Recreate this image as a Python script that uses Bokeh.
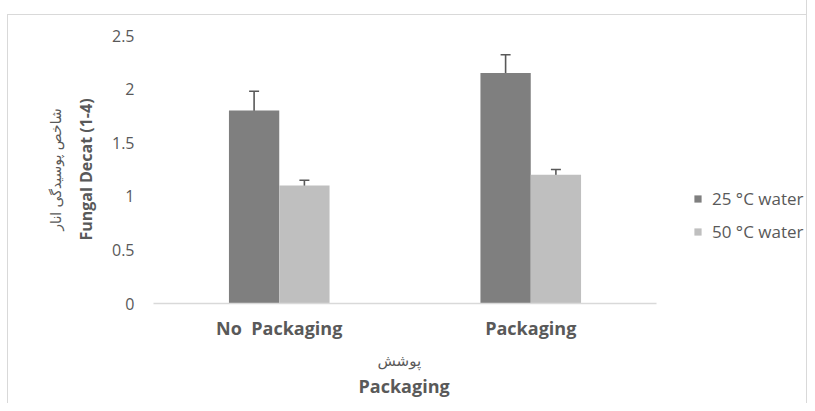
from bokeh.plotting import figure
from bokeh.models import (ColumnDataSource, Range1d, Whisker, TeeHead, Title,
                          Legend, LegendItem, LinearAxis, CustomJSTickFormatter,
                          NumeralTickFormatter, FixedTicker)
from bokeh.transform import dodge
from bokeh.embed import file_html
from bokeh.resources import INLINE

categories = ["No\u00a0 Packaging", "Packaging"]
series_names = ["25 °C water", "50 °C water"]
water25 = [1.80, 2.15]
water25_err = [0.18, 0.17]
water50 = [1.10, 1.20]
water50_err = [0.05, 0.05]
y_ticks = [0, 0.5, 1, 1.5, 2, 2.5]
y_title_fa = "شاخص پوسیدگی انار"
y_title_en = "Fungal Decat (1-4)"
x_title_fa = "پوشش"
x_title_en = "Packaging"

n = len(categories)
xpos = [i + 0.5 for i in range(n)]

src = ColumnDataSource(dict(
    x=xpos,
    w25=water25,
    w25_lo=[v - e for v, e in zip(water25, water25_err)],
    w25_hi=[v + e for v, e in zip(water25, water25_err)],
    w50=water50,
    w50_lo=[v - e for v, e in zip(water50, water50_err)],
    w50_hi=[v + e for v, e in zip(water50, water50_err)],
))

FONT = "Open Sans"
FA_FONT = "DejaVu Sans"
TXT = "#595959"

# plot frame extends right so the legend can sit inside it; the category axis
# itself is bounded to the two categories
FRAME_W = 653
CAT_PX = 251.5
p = figure(x_range=Range1d(0, FRAME_W / CAT_PX), y_range=Range1d(0, 2.5),
           frame_width=FRAME_W, frame_height=268, output_backend="svg",
           toolbar_location=None,
           min_border_left=153, min_border_right=0, min_border_top=35,
           min_border_bottom=100)
p.border_fill_color = None
p.background_fill_color = None
p.styles = {"box-shadow": "inset 7px 14px 0 0 #ffffff, inset 8px 15px 0 0 #d9d9d9",
            "border-right": "1px solid #d9d9d9"}
p.outline_line_color = None
p.xgrid.visible = False
p.ygrid.visible = False

r1 = p.vbar(x=dodge("x", -0.1), top="w25", width=0.2, source=src,
            fill_color="#7f7f7f", line_color=None)
r2 = p.vbar(x=dodge("x", 0.1), top="w50", width=0.2, source=src,
            fill_color="#bfbfbf", line_color=None)

for off, lo, hi in [(-0.1, "w25_lo", "w25_hi"), (0.1, "w50_lo", "w50_hi")]:
    w = Whisker(base=dodge("x", off), lower=lo, upper=hi, source=src,
                line_color="#595959", line_width=1.6,
                upper_head=TeeHead(size=10, line_color="#595959", line_width=1.6),
                lower_head=TeeHead(size=10, line_color="#595959", line_width=1.6))
    p.add_layout(w)

# y axis
ya = p.yaxis[0]
ya.ticker = FixedTicker(ticks=y_ticks)
ya.formatter = NumeralTickFormatter(format="0.[0]")
ya.axis_line_color = None
ya.major_tick_line_color = None
ya.minor_tick_line_color = None
ya.major_tick_out = 0
ya.major_tick_in = 0
ya.major_label_text_font = FONT
ya.major_label_text_font_size = "16px"
ya.major_label_text_color = TXT
ya.major_label_standoff = 19
ya.axis_label = y_title_en
ya.axis_label_text_font = FONT
ya.axis_label_text_font_style = "bold"
ya.axis_label_text_font_size = "16px"
ya.axis_label_text_color = TXT
ya.axis_label_standoff = 12

ya2 = LinearAxis(axis_label=y_title_fa, ticker=FixedTicker(ticks=[]),
                 axis_line_color=None, major_tick_line_color=None,
                 minor_tick_line_color=None, major_label_text_font_size="0px",
                 major_label_standoff=0, major_tick_out=0, major_tick_in=0,
                 axis_label_standoff=8, axis_label_text_font=FA_FONT,
                 axis_label_text_font_style="normal", axis_label_text_font_size="14px",
                 axis_label_text_color=TXT)
p.add_layout(ya2, "left")

# x axis (category axis, bounded to the categories)
xa = p.xaxis[0]
xa.bounds = (0, n)
xa.ticker = FixedTicker(ticks=xpos)
xa.formatter = CustomJSTickFormatter(args=dict(cats=categories),
                                     code="return cats[Math.floor(tick)];")
xa.axis_line_color = "#d9d9d9"
xa.axis_line_width = 1.5
xa.major_tick_line_color = None
xa.minor_tick_line_color = None
xa.major_tick_out = 0
xa.major_tick_in = 0
xa.major_label_text_font = FONT
xa.major_label_text_font_style = "bold"
xa.major_label_text_font_size = "18px"
xa.major_label_text_color = TXT
xa.major_label_standoff = 12

# x titles, centred under the category area (left edge offsets from plot area)
t_fa = Title(text=x_title_fa, align="left", offset=224, vertical_align="top",
             standoff=18, text_font=FA_FONT, text_font_style="normal",
             text_font_size="15px", text_color=TXT)
p.add_layout(t_fa, "below")
t_en = Title(text=x_title_en, align="left", offset=205, vertical_align="top",
             standoff=-14, text_font=FONT, text_font_style="bold",
             text_font_size="18px", text_color=TXT)
p.add_layout(t_en, "below")

legend = Legend(items=[LegendItem(label=series_names[0], renderers=[r1]),
                       LegendItem(label=series_names[1], renderers=[r2])],
                location=(540, 60), orientation="vertical",
                border_line_color=None, background_fill_alpha=0,
                padding=0, margin=0, spacing=10, label_height=20,
                glyph_height=9, glyph_width=9, label_standoff=10,
                label_text_font=FONT, label_text_font_size="17px",
                label_text_color=TXT)
p.add_layout(legend)

open("out.html", "w").write(file_html(p, INLINE))
